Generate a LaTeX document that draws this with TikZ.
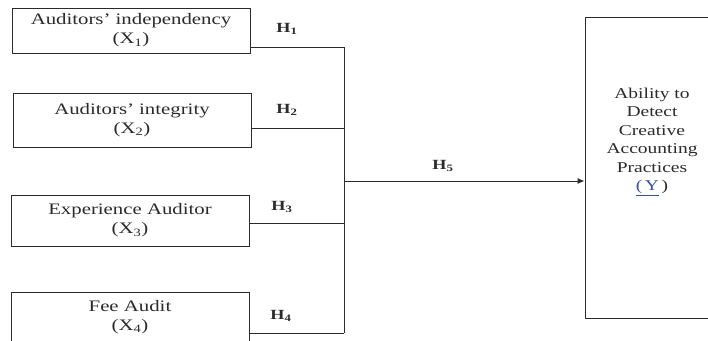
\documentclass[tikz,border=0pt]{standalone}
\usepackage{fontspec}
\setmainfont{Liberation Serif}[FakeStretch=1.3]
\usetikzlibrary{arrows.meta}
\definecolor{ink}{HTML}{2B2B2B}
\definecolor{linkblue}{HTML}{3B4FA8}
\tikzset{
  varbox/.style={draw=ink, line width=1pt, minimum width=238pt, inner sep=0pt,
    align=center, font=\fontsize{16}{19}\selectfont, text=ink},
  hlabel/.style={font=\fontsize{14}{16}\selectfont\bfseries, text=ink, inner sep=0pt},
  link/.style={draw=ink, line width=1pt},
}
\begin{document}
\begin{tikzpicture}[x=1pt,y=-1pt]
\clip (0,0) rectangle (708,340);
\fill[white] (0,0) rectangle (708,340);
% independent variable boxes
\node[varbox, minimum height=45pt] (b1) at (131,30.5) {Auditors' independency\\(X\textsubscript{1})};
\node[varbox, minimum height=54pt] (b2) at (132,120) {Auditors' integrity\\(X\textsubscript{2})};
\node[varbox, minimum height=51pt] (b3) at (130,220.5) {Experience Auditor\\(X\textsubscript{3})};
\node[varbox, minimum height=50pt] (b4) at (130,317) {Fee Audit\\(X\textsubscript{4})};
% dependent variable box
\node[draw=ink, line width=1pt, minimum width=135pt, minimum height=301pt, inner sep=0pt] (y) at (652.5,167.5) {};
\node[align=center, text=ink, font=\fontsize{15}{18.5}\selectfont, inner sep=0pt] (ylab) at (652,142)
  {Ability to\\Detect\\Creative\\Accounting\\Practices\\\textcolor{linkblue}{\underline{(\,Y}}\,)};
% bus coordinates
\coordinate (j1) at (344,47);
\coordinate (j2) at (344,128);
\coordinate (j3) at (344,223);
\coordinate (j4) at (344,333);
\coordinate (j5) at (344,181);
% connectors
\draw[link] (b1.east |- j1) -- (j1);
\draw[link] (b2.east |- j2) -- (j2);
\draw[link] (b3.east |- j3) -- (j3);
\draw[link] (b4.east |- j4) -- (j4);
\draw[link] (j1) -- (j4);
\draw[link, -{Latex[length=7pt,width=6pt]}] (j5) -- (y.west |- j5);
% hypothesis labels
\node[hlabel] (h1) at (287,29) {H\textsubscript{1}};
\node[hlabel] (h2) at (287,110) {H\textsubscript{2}};
\node[hlabel] (h3) at (282,207) {H\textsubscript{3}};
\node[hlabel] (h4) at (281,316) {H\textsubscript{4}};
\node[hlabel] (h5) at (443,166) {H\textsubscript{5}};
\end{tikzpicture}
\end{document}
